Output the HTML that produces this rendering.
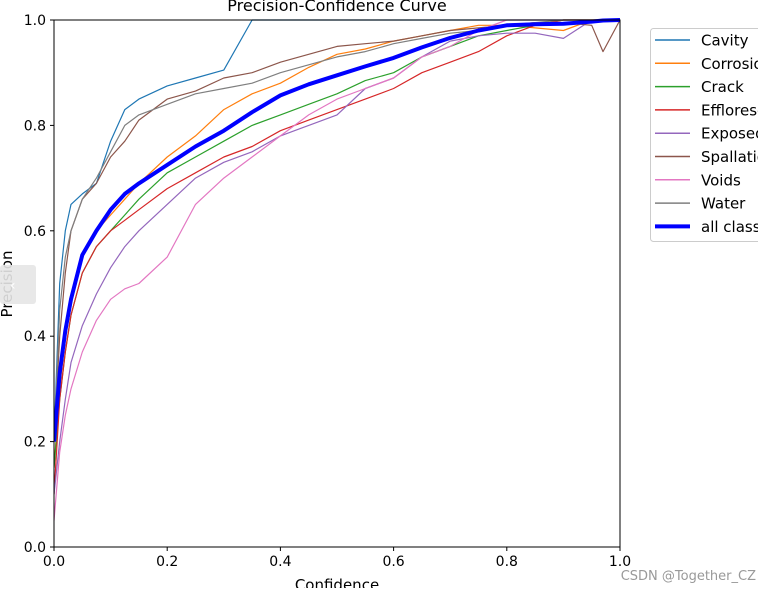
<!DOCTYPE html>
<html><head><meta charset="utf-8"><style>
body{margin:0;background:#fff;width:758px;height:588px;overflow:hidden;font-family:"Liberation Sans","DejaVu Sans",sans-serif}
svg text{font-family:"DejaVu Sans","Liberation Sans",sans-serif}
</style></head><body>
<svg id="c" width="758" height="588"></svg>
<script>
const conf=[0,0.01,0.02,0.03,0.05,0.075,0.1,0.125,0.15,0.2,0.25,0.3,0.35,0.4,0.45,0.5,0.55,0.6,0.65,0.7,0.75,0.8,0.85,0.9,0.95,0.97,1.0];
const cavity=[0.2,0.5,0.6,0.65,0.67,0.69,0.77,0.83,0.85,0.875,0.89,0.905,1,1,1,1,1,1,1,1,1,1,1,1,1,1,1];
const corrosion=[0.15,0.3,0.4,0.47,0.55,0.6,0.63,0.66,0.69,0.74,0.78,0.83,0.86,0.88,0.91,0.935,0.945,0.96,0.97,0.98,0.99,0.99,0.985,0.98,1,1,1];
const crack=[0.15,0.28,0.37,0.44,0.52,0.57,0.6,0.63,0.66,0.71,0.74,0.77,0.8,0.82,0.84,0.86,0.885,0.9,0.93,0.95,0.97,0.98,0.99,1,1,1,1];
const efflorescence=[0.1,0.28,0.37,0.44,0.52,0.57,0.6,0.62,0.64,0.68,0.71,0.74,0.76,0.79,0.81,0.83,0.85,0.87,0.9,0.92,0.94,0.97,0.99,1,1,1,1];
const exposed=[0.1,0.2,0.28,0.35,0.42,0.48,0.53,0.57,0.6,0.65,0.7,0.73,0.75,0.78,0.8,0.82,0.87,0.89,0.93,0.96,0.97,0.975,0.975,0.965,1,1,1];
const spallation=[0.2,0.4,0.52,0.6,0.66,0.69,0.74,0.77,0.81,0.85,0.865,0.89,0.9,0.92,0.935,0.95,0.955,0.96,0.97,0.98,0.985,0.99,0.995,0.995,0.99,0.94,1];
const voids=[0.05,0.18,0.25,0.3,0.37,0.43,0.47,0.49,0.5,0.55,0.65,0.7,0.74,0.78,0.82,0.85,0.87,0.89,0.93,0.95,0.98,1,1,1,1,1,1];
const water=[0.2,0.45,0.55,0.6,0.66,0.7,0.75,0.8,0.82,0.84,0.86,0.87,0.88,0.9,0.915,0.93,0.94,0.955,0.965,0.975,0.98,0.99,0.995,1,1,1,1];
const allClasses=[0.2,0.33,0.41,0.47,0.554,0.6,0.64,0.67,0.69,0.725,0.76,0.79,0.825,0.857,0.878,0.895,0.912,0.928,0.948,0.966,0.98,0.99,0.992,0.993,0.997,0.999,1];
const names=["Cavity","Corrosion","Crack","Efflorescence","Exposed","Spallation","Voids","Water","all classes"];
const xTicks=[0,0.2,0.4,0.6,0.8,1.0];
const yTicks=[0,0.2,0.4,0.6,0.8,1.0];
const series=[cavity,corrosion,crack,efflorescence,exposed,spallation,voids,water,allClasses];
const colors=["#1f77b4","#ff7f0e","#2ca02c","#d62728","#9467bd","#8c564b","#e377c2","#7f7f7f","#0000ff"];
const L=54,R=620,T=20,B=547;
const sx=v=>L+v*(R-L), sy=v=>B-v*(B-T);
const svg=document.getElementById('c');const NS="http://www.w3.org/2000/svg";
function mk(t,a,p){const e=document.createElementNS(NS,t);for(const k in a)e.setAttribute(k,a[k]);(p||svg).appendChild(e);return e;}
const clip=mk('clipPath',{id:'pc'});mk('rect',{x:L,y:T-3,width:R-L,height:B-T+3},clip);
series.forEach((s,i)=>{
  const d=s.map((v,j)=>(j?'L':'M')+sx(conf[j]).toFixed(1)+' '+sy(v).toFixed(1)).join(' ');
  const p=mk('path',{d:d,fill:'none',stroke:colors[i],'stroke-width':i==8?4:1.2,'stroke-linejoin':'round','clip-path':'url(#pc)'});
  
  
});
const fr=mk('rect',{x:L,y:T,width:R-L,height:B-T,fill:'none',stroke:'#000','stroke-width':1});


xTicks.forEach(v=>{
  mk('line',{x1:sx(v),x2:sx(v),y1:B,y2:B+4,stroke:'#000'});
  const t=mk('text',{x:sx(v),y:B+19,'text-anchor':'middle','font-size':14});t.textContent=v.toFixed(1);
  
  
});
yTicks.forEach(v=>{
  mk('line',{x1:L-4,x2:L,y1:sy(v),y2:sy(v),stroke:'#000'});
  const t=mk('text',{x:L-8,y:sy(v)+5,'text-anchor':'end','font-size':14});t.textContent=v.toFixed(1);
  
  
});
let t=mk('text',{x:337,y:11,'text-anchor':'middle','font-size':16});t.textContent="Precision-Confidence Curve";


t=mk('text',{x:337,y:590,'text-anchor':'middle','font-size':15});t.textContent="Confidence";


t=mk('text',{x:12,y:284,'text-anchor':'middle','font-size':15,transform:'rotate(-90 12 284)'});t.textContent="Precision";


const lg=mk('g',{});


mk('rect',{x:650.5,y:28.5,width:120,height:213,rx:3,fill:'#fff',stroke:'#ccc'},lg);
names.forEach((n,i)=>{
  const y=40+i*23.3;
  mk('line',{x1:655,x2:690,y1:y,y2:y,stroke:colors[i],'stroke-width':i==8?4:1.5},lg);
  const tx=mk('text',{x:701,y:y+5.5,'font-size':15},lg);tx.textContent=n;
  
  
});
const ov=mk('rect',{x:0,y:265,width:36,height:39,rx:3,fill:'#e6e6e6',opacity:0.9});


t=mk('text',{x:10,y:290,'font-size':14,fill:'#fff'});t.textContent="‹";
t=mk('text',{x:756,y:580,'text-anchor':'end','font-size':13,fill:'#999'});t.textContent="CSDN @Together_CZ";


</script>
</body></html>
